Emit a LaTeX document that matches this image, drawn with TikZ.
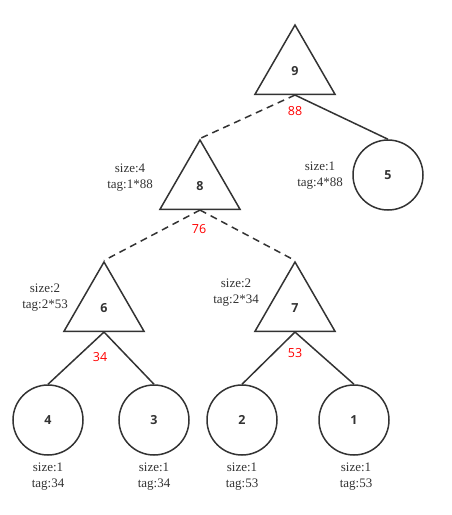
\documentclass[tikz,border=0pt]{standalone}
\usepackage{fontspec}
\setmainfont{Liberation Serif}
\setsansfont{Open Sans}
\usetikzlibrary{shapes.geometric}
\definecolor{stroke}{HTML}{333333}
\definecolor{lazyred}{HTML}{FF0000}

\begin{document}
\begin{tikzpicture}[
  x=1pt, y=-1pt,
  line width=1.5pt, draw=stroke, text=stroke,
  tri/.style={regular polygon, regular polygon sides=3, draw=stroke, minimum size=92.4pt, inner sep=0pt, font=\sffamily\bfseries\fontsize{12.5}{14}\selectfont},
  leaf/.style={circle, draw=stroke, minimum size=70pt, inner sep=0pt, font=\sffamily\bfseries\fontsize{12.5}{14}\selectfont},
  info/.style={align=center, inner sep=0pt, font=\fontsize{13}{16}\selectfont},
  lazy/.style={inner sep=0pt, text=lazyred, font=\sffamily\fontsize{12.5}{14}\selectfont},
  pushed/.style={dashed, dash pattern=on 7pt off 5pt},
]
\useasboundingbox (0,0) rectangle (451,515);
% inner segments
\node[tri] (t9) at (295,71.2) {9};
\node[tri] (t8) at (200,186.2) {8};
\node[tri] (t6) at (104,308.2) {6};
\node[tri] (t7) at (295,308.2) {7};
% leaves
\node[leaf] (c5) at (388,175) {5};
\node[leaf] (c4) at (48,420) {4};
\node[leaf] (c3) at (154,420) {3};
\node[leaf] (c2) at (242,420) {2};
\node[leaf] (c1) at (354,420) {1};
% lazy tags
\node[lazy] (w9) at (295,111) {88};
\node[lazy] (w8) at (199,229) {76};
\node[lazy] (w6) at (100,357) {34};
\node[lazy] (w7) at (295,353) {53};
% size / tag notes
\node[info] (s8) at (130,178) {size:4\\tag:1*88};
\node[info] (s5) at (320,176) {size:1\\tag:4*88};
\node[info] (s6) at (45,298) {size:2\\tag:2*53};
\node[info] (s7) at (236,293) {size:2\\tag:2*34};
\node[info] (s4) at (48,477) {size:1\\tag:34};
\node[info] (s3) at (154,477) {size:1\\tag:34};
\node[info] (s2) at (242,477) {size:1\\tag:53};
\node[info] (s1) at (356,477) {size:1\\tag:53};
% edges
\draw[pushed] (t9.side 2) -- (t8.corner 1);
\draw (t9.side 2) -- (c5.north);
\draw[pushed] (t8.side 2) -- (t6.corner 1);
\draw[pushed] (t8.side 2) -- (t7.corner 1);
\draw (t6.side 2) -- (c4.north);
\draw (t6.side 2) -- (c3.north);
\draw (t7.side 2) -- (c2.north);
\draw (t7.side 2) -- (c1.north);
\end{tikzpicture}
\end{document}
